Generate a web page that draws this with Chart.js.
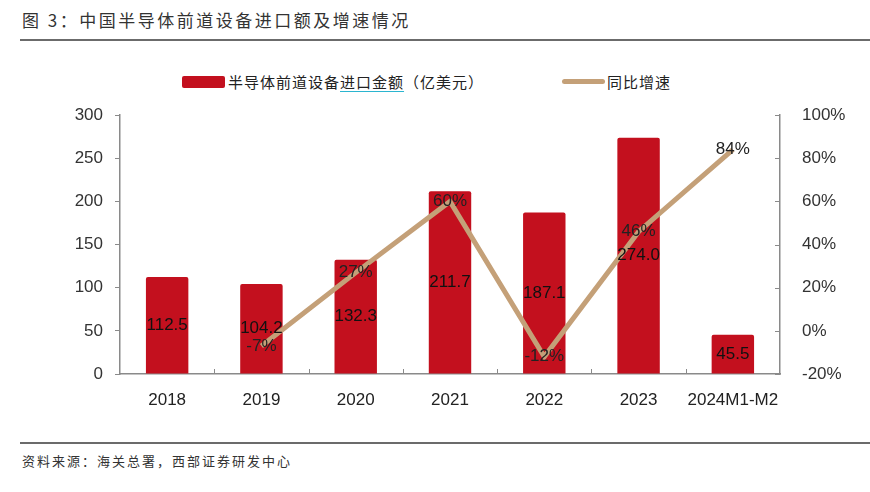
<!DOCTYPE html>
<html>
<head>
<meta charset="utf-8">
<script src="https://cdn.jsdelivr.net/npm/chart.js@4"></script>
<style>
  body { margin: 0; background: #fff; }
  #wrap { position: relative; width: 870px; height: 492px; overflow: hidden; font-family: "Noto Sans CJK SC", sans-serif; }
  .title { position: absolute; left: 22px; top: 7px; font-size: 17px; color: #333; letter-spacing: 2.5px; }
  .rule { position: absolute; left: 20px; right: 0; height: 2px; background: #6b6b6b; }
  .source { position: absolute; left: 22px; top: 451px; font-size: 13px; color: #333; letter-spacing: 2px; }
  .legend { position: absolute; top: 71px; font-size: 15px; color: #222; display: flex; align-items: center; letter-spacing: 1px; }
  .box { width: 43px; height: 12px; background: #C3101E; border-radius: 2px; margin-right: 3px; }
  .ln { width: 43px; height: 5px; background: #C4A078; border-radius: 3px; margin-right: 2px; }
  .ul { text-decoration: underline; text-decoration-color: #2bb5d0; text-underline-offset: 3px; }
  canvas { position: absolute; left: 0; top: 91px; }
</style>
</head>
<body>
<div id="wrap">
  <div class="title">图 3：中国半导体前道设备进口额及增速情况</div>
  <div class="rule" style="top:39px"></div>
  <div class="legend" style="left:182px"><div class="box"></div>半导体前道设备<span class="ul">进口金额</span>（亿美元）</div>
  <div class="legend" style="left:562px"><div class="ln"></div>同比增速</div>
  <canvas id="chart" width="870" height="323"></canvas>
  <div class="rule" style="top:442px"></div>
  <div class="source">资料来源：海关总署，西部证券研发中心</div>
</div>
<script>
const categories = ['2018', '2019', '2020', '2021', '2022', '2023', '2024M1-M2'];
const importValues = [112.5, 104.2, 132.3, 211.7, 187.1, 274.0, 45.5];
const growthRates = [null, -7, 27, 60, -12, 46, 84];
const leftTicks = [0, 50, 100, 150, 200, 250, 300];
const rightTicks = [-20, 0, 20, 40, 60, 80, 100];

const axisColor = '#8a8a8a';
const tickFont = { family: 'Arial, "Liberation Sans", sans-serif', size: 17 };

// value labels and inward tick marks
const labelPlugin = {
    id: 'labels',
    afterDatasetsDraw(chart) {
        const ctx = chart.ctx;
        ctx.save();
        ctx.font = '17px Arial, "Liberation Sans", sans-serif';
        ctx.textAlign = 'center';
        ctx.textBaseline = 'middle';
        ctx.fillStyle = '#111';
        chart.getDatasetMeta(0).data.forEach((bar, i) => {
            ctx.fillText(importValues[i].toFixed(1), bar.x, (bar.y + bar.base) / 2);
        });
        ctx.fillStyle = '#222';
        chart.getDatasetMeta(1).data.forEach((pt, i) => {
            if (growthRates[i] === null) return;
            ctx.fillText(growthRates[i] + '%', pt.x, pt.y);
        });
        ctx.restore();
    },
    afterDraw(chart) {
        const ctx = chart.ctx;
        const area = chart.chartArea;
        ctx.save();
        ctx.strokeStyle = axisColor;
        ctx.lineWidth = 1;
        const x = chart.scales.x;
        for (let i = 1; i < categories.length; i++) {
            const bx = Math.round((x.getPixelForTick(i - 1) + x.getPixelForTick(i)) / 2) + 0.5;
            ctx.beginPath();
            ctx.moveTo(bx, area.bottom);
            ctx.lineTo(bx, area.bottom - 5);
            ctx.stroke();
        }
        const y1 = chart.scales.y1;
        y1.ticks.forEach((t, i) => {
            const py = Math.round(y1.getPixelForTick(i)) + 0.5;
            ctx.beginPath();
            ctx.moveTo(area.right, py);
            ctx.lineTo(area.right - 5, py);
            ctx.stroke();
        });
        ctx.restore();
    }
};

new Chart(document.getElementById('chart'), {
    data: {
        labels: categories,
        datasets: [{
            type: 'bar',
            data: importValues,
            backgroundColor: '#C3101E',
            borderRadius: 2,
            barPercentage: 0.45,
            categoryPercentage: 1,
            yAxisID: 'y',
            order: 2
        }, {
            type: 'line',
            data: growthRates,
            borderColor: '#C4A078',
            borderWidth: 5,
            pointRadius: 0,
            tension: 0,
            yAxisID: 'y1',
            order: 1
        }]
    },
    options: {
        responsive: false,
        animation: false,
        layout: { padding: { top: 13, bottom: 0, left: 0, right: 0 } },
        plugins: { legend: { display: false }, tooltip: { enabled: false } },
        scales: {
            x: {
                offset: true,
                grid: { display: false },
                border: { display: true, color: axisColor, width: 1.5 },
                ticks: { color: '#222', font: tickFont, padding: 8, maxRotation: 0 },
                afterFit(s) { s.height = 40; }
            },
            y: {
                position: 'left',
                min: 0, max: 300,
                afterBuildTicks(s) { s.ticks = leftTicks.map(v => ({ value: v })); },
                grid: { drawOnChartArea: false, drawTicks: true, tickLength: 5, color: axisColor },
                border: { display: true, color: axisColor, width: 1.5 },
                ticks: { color: '#333', font: tickFont, padding: 12 },
                afterFit(s) { s.width = 120; }
            },
            y1: {
                position: 'right',
                min: -20, max: 100,
                afterBuildTicks(s) { s.ticks = rightTicks.map(v => ({ value: v })); },
                grid: { display: false },
                border: { display: true, color: axisColor, width: 1.5 },
                ticks: { color: '#333', font: tickFont, padding: 14, callback: v => v + '%' },
                afterFit(s) { s.width = 90; }
            }
        }
    },
    plugins: [labelPlugin]
});
</script>
</body>
</html>
